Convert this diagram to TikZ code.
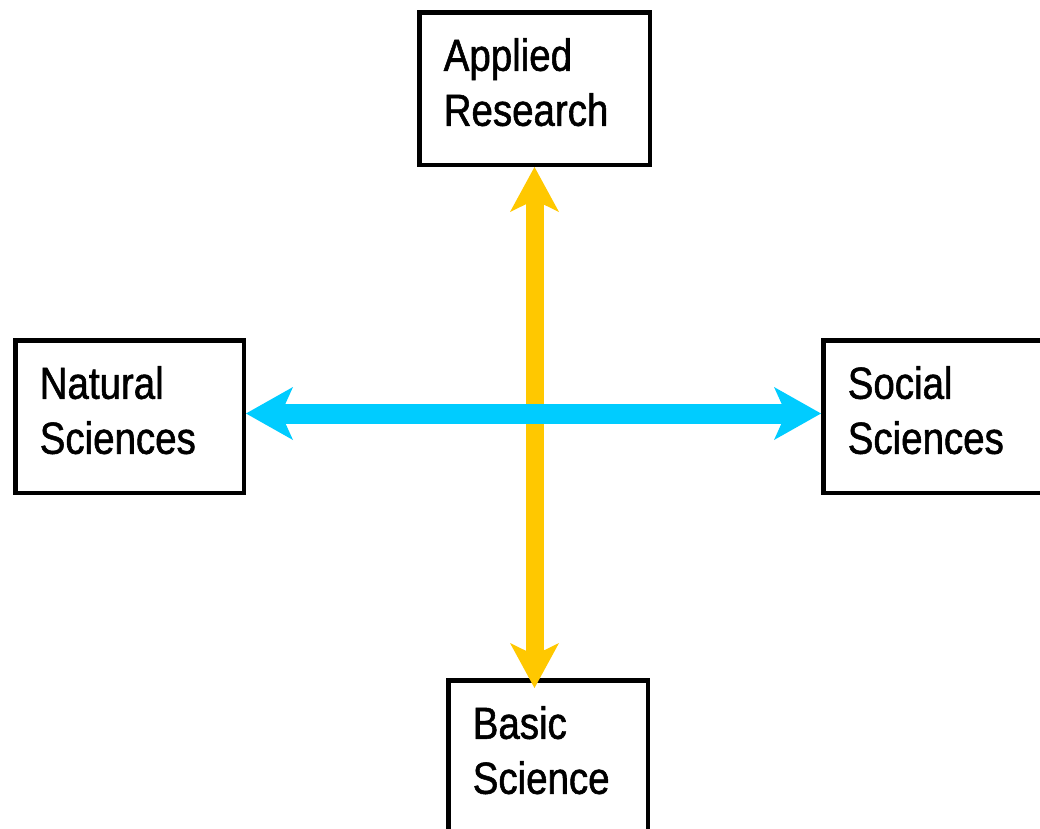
\documentclass[tikz,border=0pt]{standalone}
\usepackage{fontspec}
\setmainfont{Liberation Sans}[FakeStretch=0.855, FakeBold=1.2]
\usepackage{tikz}
\usetikzlibrary{arrows.meta}
\definecolor{axisyellow}{RGB}{255,200,0}
\definecolor{axiscyan}{RGB}{0,204,255}

\begin{document}
\begin{tikzpicture}[x=1pt, y=-1pt,
		box/.style={draw, line width=4.5pt, text width=#1, inner xsep=24.5pt, inner ysep=2pt,
			minimum height=152.5pt, align=left, text depth=68pt, font=\fontsize{45}{55}\selectfont},
		researchaxis/.style={draw=axisyellow, line width=18pt,
			{Stealth[length=45pt, width=49pt, inset=12pt, line width=0pt]}-{Stealth[length=45pt, width=49pt, inset=12pt, line width=0pt]}},
		fieldaxis/.style={draw=axiscyan, line width=20pt,
			{Stealth[length=47pt, width=53pt, inset=12pt, line width=0pt]}-{Stealth[length=47pt, width=53pt, inset=12pt, line width=0pt]}}]
			\useasboundingbox (0,0) rectangle (1040,828);
			\fill[white] (0,0) rectangle (1040,828);
			\clip (0,0) rectangle (1040,828);
			% Boxes
			\node[box=181.5pt] (applied) at (534.5,88.5) {Applied\\Research};
			\node[box=179.5pt] (natural) at (129.5,416.5) {Natural\\Sciences};
			\node[box=181.5pt] (social) at (938.5,416.5) {Social\\Sciences};
			\node[box=150.5pt] (basic) at (548,756.5) {Basic\\Science};
			% Axes
			\draw[researchaxis] (applied.south) -- ([yshift=-10pt]basic.north -| applied.south);
			\draw[fieldaxis] ([yshift=3pt]natural.east) -- ([yshift=3pt]social.west);
		\end{tikzpicture}
\end{document}
